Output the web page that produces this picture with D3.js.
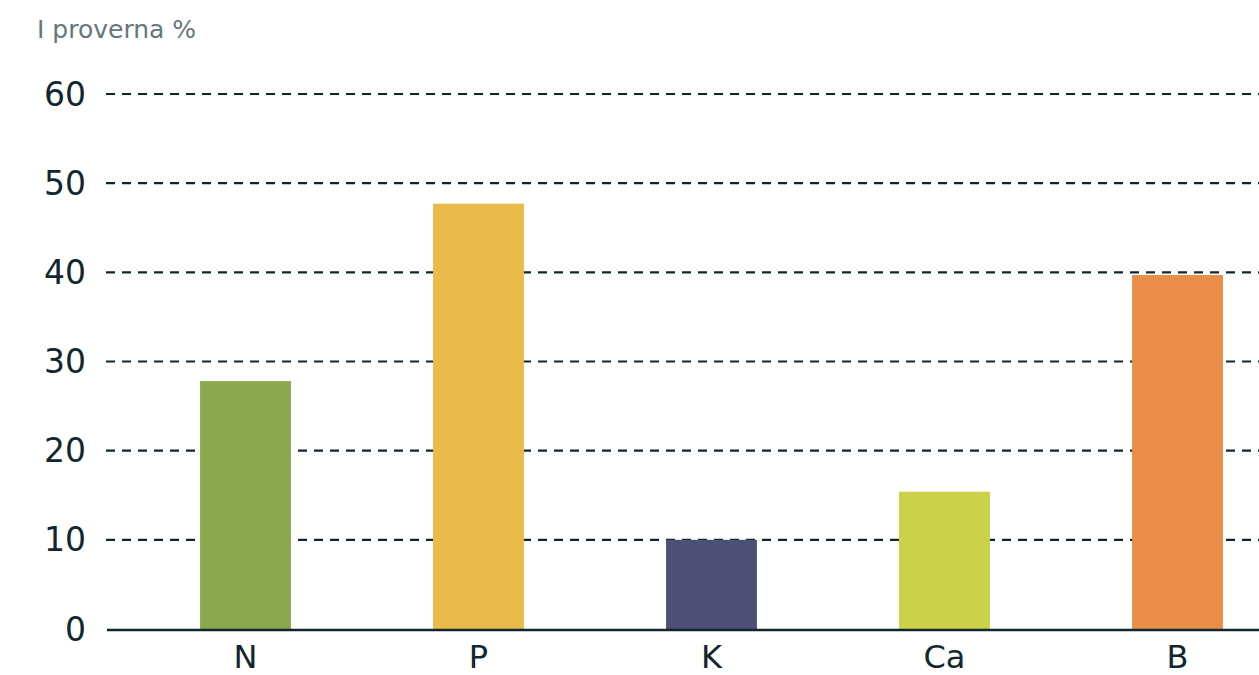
<!DOCTYPE html>
<html><head><meta charset="utf-8">
<script src="https://cdn.jsdelivr.net/npm/d3@7"></script>
<style>
html,body{margin:0;padding:0;background:#fff;}
svg{display:block;}
text{font-family:"DejaVu Sans",sans-serif;}
</style></head>
<body>
<svg id="chart" width="1259" height="675"></svg>
<script>
const categories = ["N", "P", "K", "Ca", "B"];
const values = [27.8, 47.7, 10.0, 15.4, 39.7];
const colors = ["#8ba84e", "#e8bb4a", "#4e4f75", "#ccd14a", "#e88e48"];
const yTicks = [0, 10, 20, 30, 40, 50, 60];
const yTitle = "I proverna %";

const svg = d3.select("#chart");
const W = 1259, H = 675;
const y = d3.scaleLinear().domain([0, 60]).range([629, 94]);
const x = d3.scaleBand().domain(categories).range([129, 1294]).paddingInner(0.61).paddingOuter(0.305);
const ink = "#12262f";

// gridlines
svg.append("g").selectAll("line").data(yTicks.filter(d => d > 0)).join("line")
  .attr("x1", 106).attr("x2", W)
  .attr("y1", d => y(d)).attr("y2", d => y(d))
  .attr("stroke", ink).attr("stroke-width", 2.2).attr("stroke-dasharray", "9,7");

// y tick labels
svg.append("g").selectAll("text").data(yTicks).join("text")
  .attr("x", 86).attr("y", d => y(d))
  .attr("text-anchor", "end").attr("dominant-baseline", "central")
  .attr("font-size", 33).attr("fill", ink)
  .text(d => d);

// bars
svg.append("g").selectAll("rect").data(categories).join("rect")
  .attr("x", d => x(d)).attr("width", x.bandwidth())
  .attr("y", (d, i) => y(values[i])).attr("height", (d, i) => y(0) - y(values[i]))
  .attr("fill", (d, i) => colors[i]);

// x axis line
svg.append("line").attr("x1", 107).attr("x2", W).attr("y1", 630).attr("y2", 630)
  .attr("stroke", ink).attr("stroke-width", 2.5);

// x labels
svg.append("g").selectAll("text").data(categories).join("text")
  .attr("x", d => x(d) + x.bandwidth() / 2).attr("y", 668)
  .attr("text-anchor", "middle").attr("font-size", 32).attr("fill", ink)
  .text(d => d);

// title
svg.append("text").attr("x", 37).attr("y", 38).attr("font-size", 25)
  .attr("fill", "#66767c").text(yTitle);
</script>
</body></html>
